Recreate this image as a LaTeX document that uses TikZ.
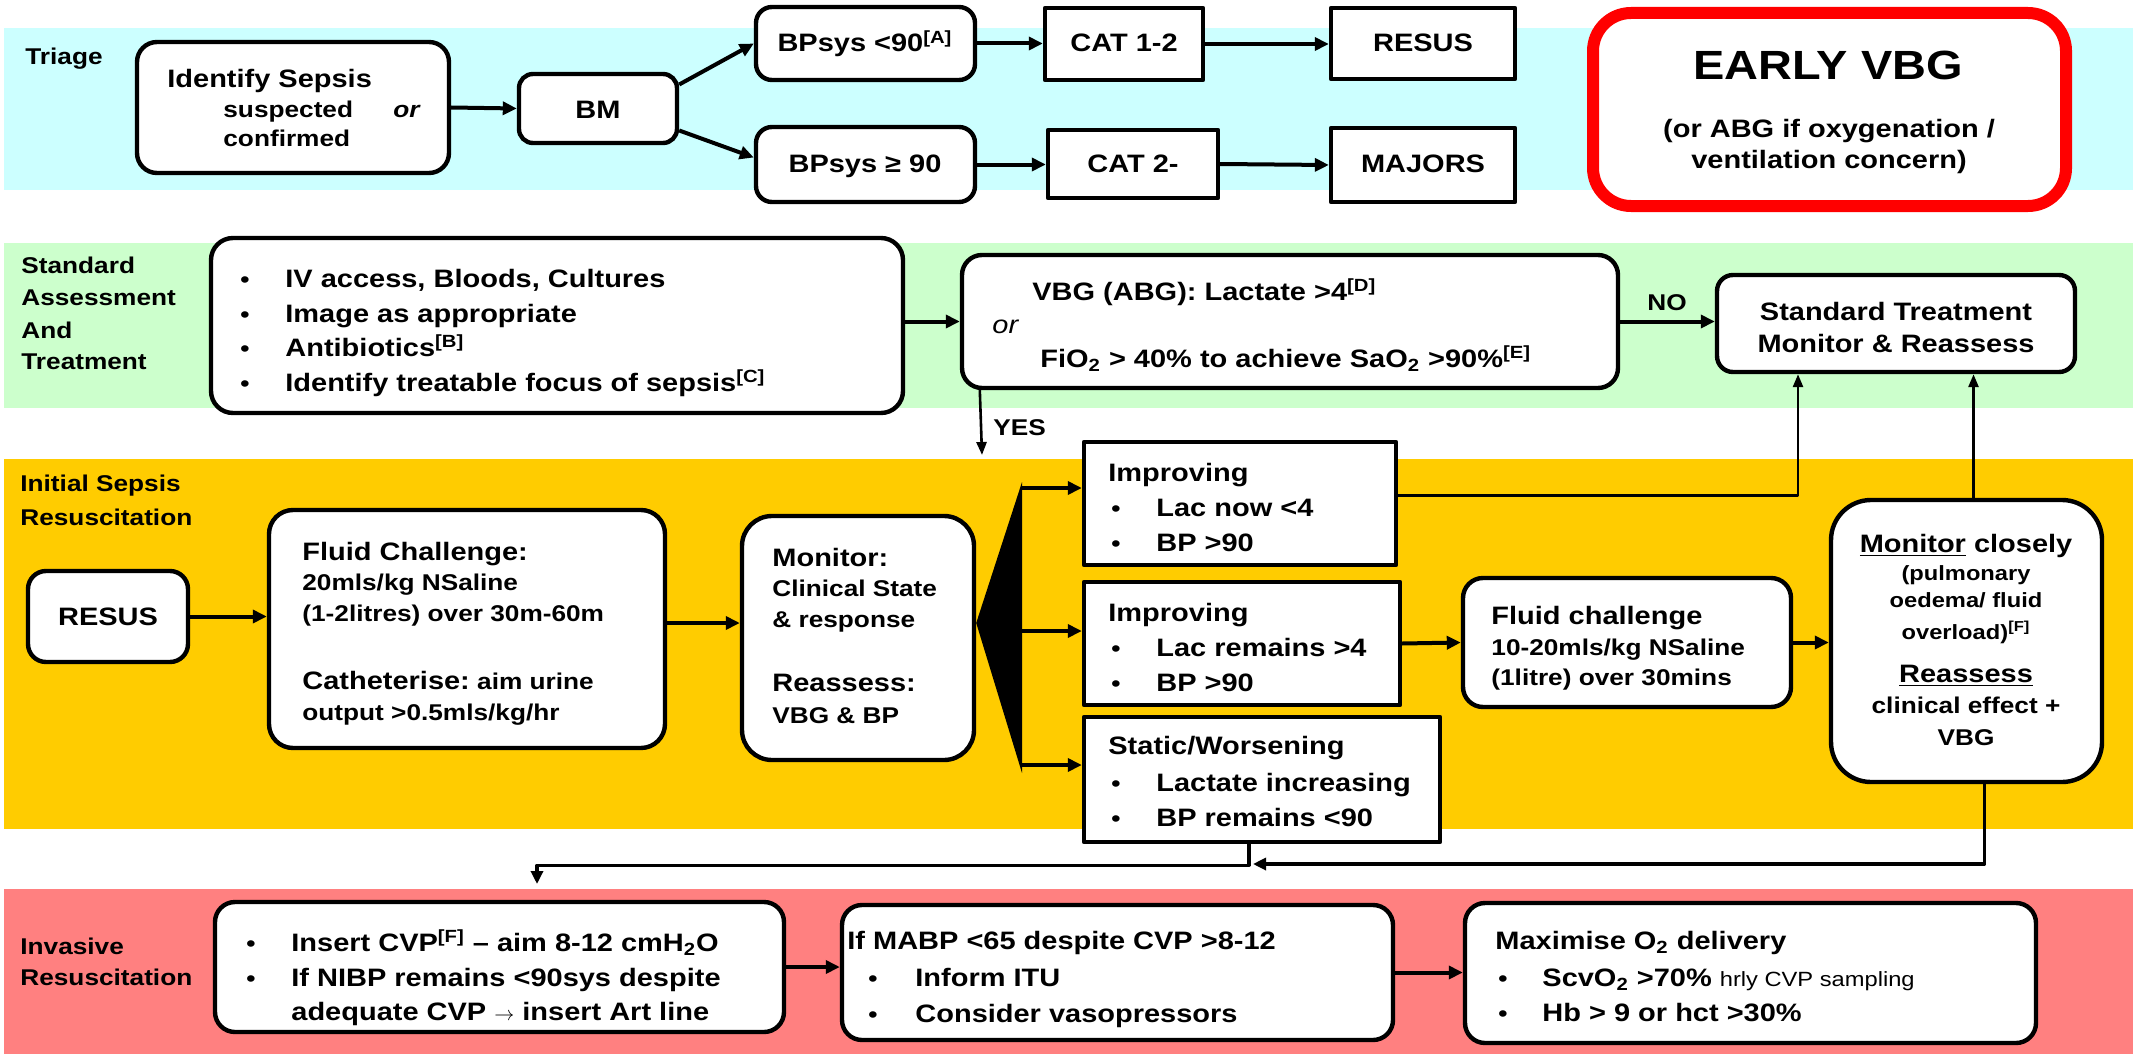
\documentclass[tikz,border=0pt]{standalone}
\usepackage{fontspec}
\setmainfont{Liberation Sans}[FakeStretch=1.15]
\usetikzlibrary{arrows.meta,calc}
\definecolor{cyanband}{HTML}{CCFFFF}
\definecolor{greenband}{HTML}{CCFFCC}
\definecolor{orangeband}{HTML}{FFCC00}
\definecolor{pinkband}{HTML}{FF8080}
\definecolor{redframe}{HTML}{FF0000}
\newcommand\fsA{\fontsize{12.6}{15}\selectfont\bfseries}
\newcommand\fsB{\fontsize{11.4}{14}\selectfont\bfseries}
\newcommand\fsC{\fontsize{10.3}{12}\selectfont\bfseries}
\newcommand\fsE{\fontsize{20.4}{24}\selectfont\bfseries}
\newcommand\mkbox[6]{\node[#6, minimum width={(#4-#2)*0.5pt}, minimum height={(#5-#3)*0.5pt}] (#1) at ({(#2+#4)/2},{(#3+#5)/2}) {};}
\tikzset{
  rbox/.style={draw, line width=2.2pt, fill=white, rounded corners=9pt, inner sep=0pt},
  sbox/.style={draw, line width=2.2pt, fill=white, inner sep=0pt},
  band/.style={draw=none, inner sep=0pt},
  tl/.style={anchor=base west, inner sep=0pt, font=\fsA},
  tc/.style={anchor=base, inner sep=0pt, font=\fsA},
  bul/.style={anchor=base, inner sep=0pt, font=\fsB},
  lbl/.style={anchor=base west, inner sep=0pt, font=\fsB},
  arr/.style={line width=2pt, -{Triangle[length=7pt,width=6.5pt]}},
  marr/.style={line width=1.6pt, -{Triangle[length=6.5pt,width=6pt]}},
  tarr/.style={line width=1.3pt, -{Triangle[length=6.5pt,width=5pt]}},
}
\begin{document}
\begin{tikzpicture}[x=0.5pt, y=-0.5pt, line join=round]
\useasboundingbox (0,0) rectangle (2140,1054);
% bands
\mkbox{bandT}{4}{28}{2133}{190}{band, fill=cyanband}
\mkbox{bandS}{4}{243}{2133}{408}{band, fill=greenband}
\mkbox{bandI}{4}{459}{2133}{829}{band, fill=orangeband}
\mkbox{bandR}{4}{889}{2133}{1054}{band, fill=pinkband}
% triage boxes
\mkbox{idn}{137}{42}{449}{173}{rbox, rounded corners=10pt}
\mkbox{bm}{519}{74}{677}{143}{rbox, rounded corners=7pt}
\mkbox{bp1}{756}{7}{975}{80}{rbox, rounded corners=8pt}
\mkbox{bp2}{756}{127}{975}{202}{rbox, rounded corners=8pt}
\mkbox{cat1}{1045}{8}{1203}{80}{sbox}
\mkbox{cat2}{1048}{130}{1218}{198}{sbox}
\mkbox{rs1}{1331}{8}{1515}{79}{sbox}
\mkbox{mj}{1331}{128}{1515}{202}{sbox}
\mkbox{ev}{1593}{13}{2066}{206}{draw=redframe, line width=6pt, fill=white, rounded corners=19pt, inner sep=0pt}
% standard boxes
\mkbox{iv}{211}{238}{903}{413}{rbox, rounded corners=11pt}
\mkbox{vbg}{962}{255}{1618}{388}{rbox, rounded corners=10pt}
\mkbox{st}{1717}{275}{2075}{372}{rbox, rounded corners=8pt}
% initial boxes
\mkbox{rs2}{28}{571}{188}{662}{rbox, rounded corners=9pt}
\mkbox{fc}{269}{510}{665}{748}{rbox, rounded corners=12pt}
\mkbox{mon}{742}{516}{974}{760}{rbox, rounded corners=15pt}
\mkbox{imp1}{1084}{442}{1396}{565}{sbox}
\mkbox{imp2}{1084}{582}{1400}{705}{sbox}
\mkbox{sw}{1084}{717}{1440}{842}{sbox}
\mkbox{fc2}{1463}{578}{1791}{707}{rbox, rounded corners=10pt}
\mkbox{mc}{1831}{500}{2102}{782}{rbox, rounded corners=20pt}
% invasive boxes
\mkbox{cvp}{215}{902}{784}{1032}{rbox, rounded corners=10pt}
\mkbox{mabp}{842}{905}{1393}{1040}{rbox, rounded corners=10pt}
\mkbox{mx}{1465}{903}{2036}{1043}{rbox, rounded corners=10pt}
% triage text
\node[lbl] (labT) at (25,65) {Triage};
\node[tl] (idA) at (167,88) {Identify Sepsis};
\node[tl, font=\fsB] (idB) at (223,118) {suspected};
\node[tl, font=\fsB\itshape] (idC) at (393,118) {or};
\node[tl, font=\fsB] (idD) at (223,147) {confirmed};
\node[tc] (bmT) at (598,119) {BM};
\node[tc] (bp1T) at (865,52) {BPsys <90\textsuperscript{[A]}};
\node[tc] (bp2T) at (865,172) {BPsys ≥ 90};
\node[tc] (cat1T) at (1124,52) {CAT 1-2};
\node[tc] (cat2T) at (1133,172) {CAT 2-};
\node[tc] (rs1T) at (1423,52) {RESUS};
\node[tc] (mjT) at (1423,172) {MAJORS};
\node[tc, font=\fsE] (evA) at (1828,80) {EARLY VBG};
\node[tc] (evB) at (1829,137) {(or ABG if oxygenation /};
\node[tc] (evC) at (1829,169) {ventilation concern)};
% standard text
\node[lbl] (labS1) at (21,273) {Standard};
\node[lbl] (labS2) at (21,305) {Assessment};
\node[lbl] (labS3) at (21,338) {And};
\node[lbl] (labS4) at (21,369) {Treatment};
\node[bul] (ivb1) at (245,287) {•};
\node[bul] (ivb2) at (245,322) {•};
\node[bul] (ivb3) at (245,356) {•};
\node[bul] (ivb4) at (245,391) {•};
\node[tl] (ivA) at (285,287) {IV access, Bloods, Cultures};
\node[tl] (ivB) at (285,322) {Image as appropriate};
\node[tl] (ivC) at (285,356) {Antibiotics\textsuperscript{[B]}};
\node[tl] (ivD) at (285,391) {Identify treatable focus of sepsis\textsuperscript{[C]}};
\node[tl] (vbgA) at (1032,300) {VBG (ABG): Lactate >4\textsuperscript{[D]}};
\node[tl, font=\fsA\mdseries\itshape] (vbgB) at (992,333) {or};
\node[tl] (vbgC) at (1040,367) {FiO\textsubscript{2} > 40\% to achieve SaO\textsubscript{2} >90\%\textsuperscript{[E]}};
\node[tc] (stA) at (1896,320) {Standard Treatment};
\node[tc] (stB) at (1896,352) {Monitor \& Reassess};
\node[tc, font=\fsB] (noT) at (1667,310) {NO};
\node[tl, font=\fsB] (yesT) at (993,435) {YES};
% initial text
\node[lbl] (labI1) at (20,491) {Initial Sepsis};
\node[lbl] (labI2) at (20,525) {Resuscitation};
\node[tc] (rs2T) at (108,625) {RESUS};
\node[tl] (fcA) at (302,560) {Fluid Challenge:};
\node[tl, font=\fsB] (fcB) at (302,590) {20mls/kg NSaline};
\node[tl, font=\fsB] (fcC) at (302,621) {(1-2litres) over 30m-60m};
\node[tl] (fcD) at (302,689) {Catheterise:{\fsB\ aim urine}};
\node[tl, font=\fsB] (fcE) at (302,720) {output >0.5mls/kg/hr};
\node[tl] (monA) at (772,566) {Monitor:};
\node[tl, font=\fsB] (monB) at (772,596) {Clinical State};
\node[tl, font=\fsB] (monC) at (772,627) {\& response};
\node[tl] (monD) at (772,691) {Reassess:};
\node[tl, font=\fsB] (monE) at (772,723) {VBG \& BP};
\node[tl] (i1A) at (1108,481) {Improving};
\node[bul] (i1b1) at (1116,516) {•};
\node[bul] (i1b2) at (1116,551) {•};
\node[tl] (i1B) at (1156,516) {Lac now <4};
\node[tl] (i1C) at (1156,551) {BP >90};
\node[tl] (i2A) at (1108,621) {Improving};
\node[bul] (i2b1) at (1116,656) {•};
\node[bul] (i2b2) at (1116,691) {•};
\node[tl] (i2B) at (1156,656) {Lac remains >4};
\node[tl] (i2C) at (1156,691) {BP >90};
\node[tl] (swA) at (1108,754) {Static/Worsening};
\node[bul] (swb1) at (1116,791) {•};
\node[bul] (swb2) at (1116,826) {•};
\node[tl] (swB) at (1156,791) {Lactate increasing};
\node[tl] (swC) at (1156,826) {BP remains <90};
\node[tl] (fc2A) at (1491,624) {Fluid challenge};
\node[tl, font=\fsB] (fc2B) at (1491,655) {10-20mls/kg NSaline};
\node[tl, font=\fsB] (fc2C) at (1491,685) {(1litre) over 30mins};
\node[tc] (mcA) at (1966,552) {\underline{Monitor} closely};
\node[tc, font=\fsC] (mcB) at (1966,580) {(pulmonary};
\node[tc, font=\fsC] (mcC) at (1966,607) {oedema/ fluid};
\node[tc, font=\fsC] (mcD) at (1966,639) {overload)\textsuperscript{[F]}};
\node[tc] (mcE) at (1966,682) {\underline{Reassess}};
\node[tc, font=\fsB] (mcF) at (1966,713) {clinical effect +};
\node[tc, font=\fsB] (mcG) at (1966,745) {VBG};
% invasive text
\node[lbl] (labR1) at (20,954) {Invasive};
\node[lbl] (labR2) at (20,985) {Resuscitation};
\node[bul] (cvb1) at (251,951) {•};
\node[bul] (cvb2) at (251,986) {•};
\node[tl] (cvA) at (291,951) {Insert CVP\textsuperscript{[F]} -- aim 8-12 cmH\textsubscript{2}O};
\node[tl] (cvB) at (291,986) {If NIBP remains <90sys despite};
\node[tl] (cvC) at (291,1020) {adequate CVP {\normalfont\fontsize{10}{12}\selectfont$\rightarrow$} insert Art line};
\node[tl] (mbA) at (847,949) {If MABP <65 despite CVP >8-12};
\node[bul] (mbb1) at (873,986) {•};
\node[bul] (mbb2) at (873,1022) {•};
\node[tl] (mbB) at (915,986) {Inform ITU};
\node[tl] (mbC) at (915,1022) {Consider vasopressors};
\node[tl] (mxA) at (1495,949) {Maximise O\textsubscript{2} delivery};
\node[bul] (mxb1) at (1503,986) {•};
\node[bul] (mxb2) at (1503,1021) {•};
\node[tl] (mxB) at (1542,986) {ScvO\textsubscript{2} >70\% {\fsC\mdseries hrly CVP sampling}};
\node[tl] (mxC) at (1542,1021) {Hb > 9 or hct >30\%};
% connectors: triage
\draw[arr] (idn.east) -- (bm.west);
\draw[arr] ([yshift=12pt]bm.east) -- (bp1.west);
\draw[arr] ([yshift=-11pt]bm.east) -- ([yshift=3.5pt]bp2.west);
\draw[arr] (bp1.east) -- (bp1.east -| cat1.west);
\draw[arr] (bp2.east) -- (bp2.east -| cat2.west);
\draw[arr] (cat1.east) -- (cat1.east -| rs1.west);
\draw[arr] (cat2.east) -- (mj.west);
% standard
\draw[arr] ([yshift=2pt]iv.east) -- (vbg.west);
\draw[arr] (vbg.east) -- (vbg.east -| st.west);
\coordinate (yesend) at (982,455);
\draw[tarr] ([xshift=10pt]vbg.south west) -- (yesend);
% initial
\draw[arr] (rs2.east) -- (rs2.east -| fc.west);
\draw[arr] ([yshift=3pt]fc.east) -- ([yshift=3pt]fc.east -| mon.west);
\coordinate (fanA) at ([yshift=7.5pt]mon.east);
\coordinate (fanT) at (1022,482);
\coordinate (fanB) at (1022,773);
\fill (fanA) -- (fanT) -- (fanB) -- cycle;
\coordinate (f1) at (1021,488);
\coordinate (f2) at (1021,631);
\coordinate (f3) at (1021,765);
\draw[arr] (f1) -- (f1 -| imp1.west);
\draw[arr] (f2) -- (f2 -| imp2.west);
\draw[arr] (f3) -- (f3 -| sw.west);
\draw[tarr] ([yshift=4pt]imp1.east) -| ([xshift=-49pt]st.south);
\draw[tarr] ([xshift=3.5pt]mc.north) -- ([xshift=3.5pt]mc.north |- st.south);
\draw[arr] (imp2.east) -- (fc2.west);
\draw[arr] (fc2.east) -- (fc2.east -| mc.west);
\coordinate (cvpend) at (537,884);
\draw[marr] ([xshift=-6.5pt]sw.south) -- ++(0,21) -| (cvpend);
\coordinate (backend) at (1253,864);
\draw[marr] ([xshift=9pt]mc.south) |- (backend);
% invasive
\draw[arr] (cvp.east) -- (cvp.east -| mabp.west);
\draw[arr] (mabp.east) -- (mabp.east -| mx.west);
\end{tikzpicture}
\end{document}
